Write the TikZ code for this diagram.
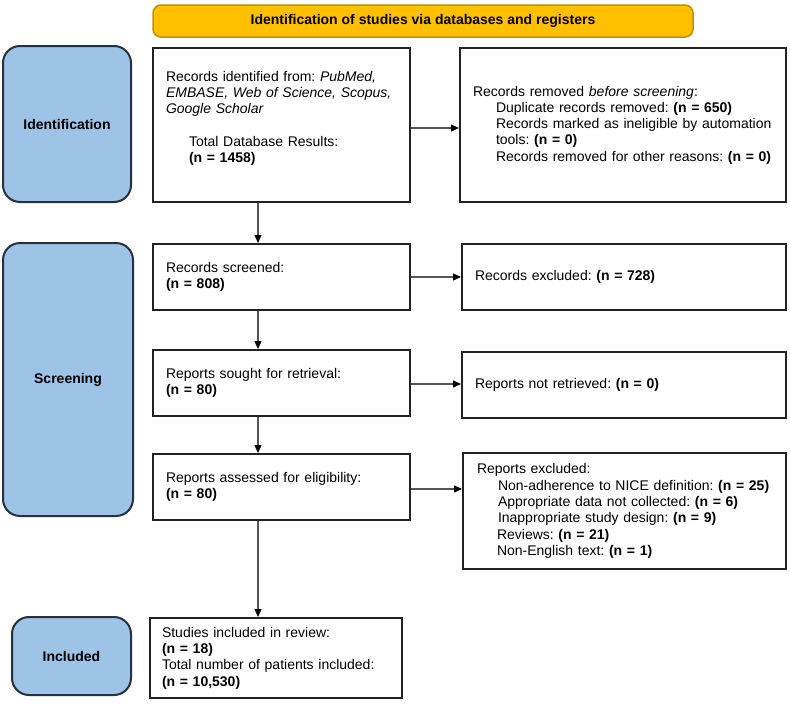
\documentclass[tikz,border=0pt]{standalone}
\usepackage{fontspec}
\setmainfont{Liberation Sans}
\usetikzlibrary{arrows.meta}
\definecolor{sidefill}{HTML}{9DC3E6}
\definecolor{sideline}{HTML}{26313D}
\definecolor{bannerfill}{HTML}{FFC000}
\definecolor{bannerline}{HTML}{BF9000}
\definecolor{boxline}{HTML}{222222}
\definecolor{arrline}{HTML}{555555}
\newcommand\indt[1]{\hspace*{23pt}#1}
\frenchspacing
\begin{document}
\begin{tikzpicture}[x=1pt,y=-1pt,
  every node/.style={font=\fontsize{14}{16.3}\selectfont},
  flowbox/.style={draw=boxline, line width=2pt, fill=white, align=left,
    inner xsep=13pt, inner ysep=0pt},
  sidebox/.style={draw=sideline, line width=2pt, fill=sidefill,
    rounded corners=17pt, inner sep=0pt,
    font=\fontsize{14}{16.3}\selectfont\bfseries},
  bannerbox/.style={draw=bannerline, line width=1.5pt, fill=bannerfill,
    rounded corners=8pt, inner sep=0pt,
    font=\fontsize{14}{16.3}\selectfont\bfseries},
  flowarrow/.style={draw=arrline, line width=1.2pt,
    -{Triangle[length=8pt,width=7pt,color=black]}}
]
\useasboundingbox (0,0) rectangle (790,707);
\fill[white] (0,0) rectangle (790,707);

% banner
\node[bannerbox, minimum width=540pt, minimum height=32pt] (ban) at (423,21)
  {Identification of studies via databases and registers};

% side boxes
\node[sidebox, minimum width=128pt, minimum height=156pt] (sid) at (67,124) {Identification};
\node[sidebox, minimum width=130pt, minimum height=273pt] (sscr) at (68,379.5) {Screening};
\node[sidebox, minimum width=119pt, minimum height=78pt] (sinc) at (71.5,656) {Included};

% main column
\node[flowbox, text width=231pt, minimum height=154pt] (b1) at (281.5,125)
  {Records identified from: \textit{PubMed,}\\
   \mbox{\textit{EMBASE, Web of Science, Scopus,}}\\
   \textit{Google Scholar}\\[16.3pt]
   \indt{Total Database Results:}\\
   \indt{\textbf{(n = 1458)}}\par\vspace{13pt}\hrule height 0pt};
\node[flowbox, text width=231pt, minimum height=66pt] (b2) at (281.5,277)
  {Records screened:\\ \textbf{(n = 808)}};
\node[flowbox, text width=231pt, minimum height=66pt] (b3) at (281.5,383)
  {Reports sought for retrieval:\\ \textbf{(n = 80)}};
\node[flowbox, text width=231pt, minimum height=66pt] (b4) at (281.5,487)
  {Reports assessed for eligibility:\\ \textbf{(n = 80)}};
\node[flowbox, inner xsep=12pt, text width=228pt, minimum height=80pt] (b5) at (276,658)
  {Studies included in review:\\ \textbf{(n = 18)}\\
   Total number of patients included:\\ \textbf{(n = 10,530)}};

% right column
\node[flowbox, text width=300pt, minimum height=154pt] (r1) at (623,125)
  {Records removed \textit{before screening}:\\
   \indt{Duplicate records removed: \textbf{(n = 650)}}\\
   \indt{\mbox{Records marked as ineligible by automation}}\\
   \indt{tools: \textbf{(n = 0)}}\\
   \indt{\mbox{Records removed for other reasons: \textbf{(n = 0)}}}};
\node[flowbox, text width=298pt, minimum height=66pt] (r2) at (624,277)
  {Records excluded: \textbf{(n = 728)}};
\node[flowbox, text width=298pt, minimum height=66pt] (r3) at (624,385)
  {Reports not retrieved: \textbf{(n = 0)}};
\node[flowbox, inner xsep=14pt, text width=295pt, minimum height=116pt] (r4) at (624.5,511)
  {Reports excluded:\\
   \hspace*{21pt}\mbox{Non-adherence to NICE definition: \textbf{(n = 25)}}\\
   \hspace*{21pt}Appropriate data not collected: \textbf{(n = 6)}\\
   \hspace*{21pt}Inappropriate study design: \textbf{(n = 9)}\\
   \hspace*{20pt}Reviews: \textbf{(n = 21)}\\
   \hspace*{20pt}Non-English text: \textbf{(n = 1)}};

% connectors
\coordinate (ax) at (258,0);
\draw[flowarrow] (b1.south -| ax) -- (b2.north -| ax);
\draw[flowarrow] (b2.south -| ax) -- (b3.north -| ax);
\draw[flowarrow] (b3.south -| ax) -- (b4.north -| ax);
\draw[flowarrow] (b4.south -| ax) -- (b5.north -| ax);
\draw[flowarrow] ([yshift=-3pt]b1.east) -- ([yshift=-3pt]b1.east -| r1.west);
\draw[flowarrow] (b2.east) -- (b2.east -| r2.west);
\draw[flowarrow] ([yshift=-1pt]b3.east) -- ([yshift=-1pt]b3.east -| r3.west);
\draw[flowarrow] ([yshift=-2pt]b4.east) -- ([yshift=-2pt]b4.east -| r4.west);
\end{tikzpicture}
\end{document}
